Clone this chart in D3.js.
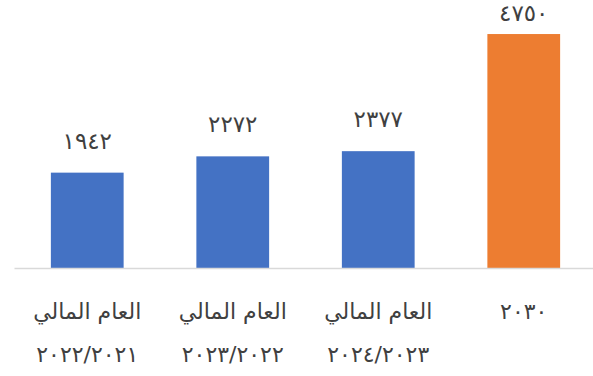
<!DOCTYPE html>
<html lang="ar">
<head>
<meta charset="utf-8">
<script src="https://cdn.jsdelivr.net/npm/d3@7"></script>
<style>
  html, body { margin: 0; padding: 0; background: #ffffff; }
  svg { display: block; }
  text { font-family: "DejaVu Sans", sans-serif; fill: #404040; }
</style>
</head>
<body>
<svg id="chart" width="593" height="376"></svg>
<script>
// Category labels: first line, second line
const categoryLine1 = ["العام المالي", "العام المالي", "العام المالي", ""];
const categoryLine2 = ["٢٠٢٢/٢٠٢١", "٢٠٢٣/٢٠٢٢", "٢٠٢٤/٢٠٢٣", "٢٠٣٠"];
const categoryKeys = ["fy2021", "fy2022", "fy2023", "y2030"];
// Values shown on the bars
const values = [1942, 2272, 2377, 4750];
const valueLabels = ["١٩٤٢", "٢٢٧٢", "٢٣٧٧", "٤٧٥٠"];
const barColors = ["#4472c4", "#4472c4", "#4472c4", "#ed7d31"];

const svg = d3.select("#chart");
const baseY = 268.5;

const x = d3.scaleBand()
  .domain(categoryKeys)
  .range([14.5, 596.5])
  .paddingInner(0.5)
  .paddingOuter(0.25);

const y = d3.scaleLinear()
  .domain([0, 5000])
  .range([baseY, 21.7]);

// Bars
svg.append("g")
  .selectAll("rect")
  .data(values)
  .join("rect")
  .attr("x", (d, i) => x(categoryKeys[i]))
  .attr("y", d => y(d))
  .attr("width", x.bandwidth())
  .attr("height", d => y(0) - y(d))
  .attr("fill", (d, i) => barColors[i]);

// Horizontal axis line
const xAxis = d3.axisBottom(x).tickSize(0).tickFormat("");
const axisG = svg.append("g")
  .attr("transform", `translate(0,${y(0)})`)
  .call(xAxis);
axisG.select(".domain")
  .attr("d", `M14.5,0H593`)
  .attr("stroke", "#d9d9d9")
  .attr("stroke-width", 1.5);

// Value labels, kept inside the top edge of the chart
svg.append("g")
  .selectAll("text")
  .data(values)
  .join("text")
  .attr("x", (d, i) => x(categoryKeys[i]) + x.bandwidth() / 2)
  .attr("y", d => Math.max(y(d) - 24, 21))
  .attr("text-anchor", "middle")
  .attr("font-size", 23)
  .text((d, i) => valueLabels[i]);

// Category labels (two lines; the last category has a single line)
const catG = svg.append("g");
categoryKeys.forEach((k, i) => {
  const cx = x(k) + x.bandwidth() / 2;
  if (categoryLine1[i]) {
    catG.append("text")
      .attr("x", cx).attr("y", 319)
      .attr("text-anchor", "middle")
      .attr("font-size", 22)
      .text(categoryLine1[i]);
    catG.append("text")
      .attr("x", cx).attr("y", 362)
      .attr("text-anchor", "middle")
      .attr("font-size", 22)
      .text(categoryLine2[i]);
  } else {
    catG.append("text")
      .attr("x", cx).attr("y", 319)
      .attr("text-anchor", "middle")
      .attr("font-size", 22)
      .text(categoryLine2[i]);
  }
});
</script>
</body>
</html>
